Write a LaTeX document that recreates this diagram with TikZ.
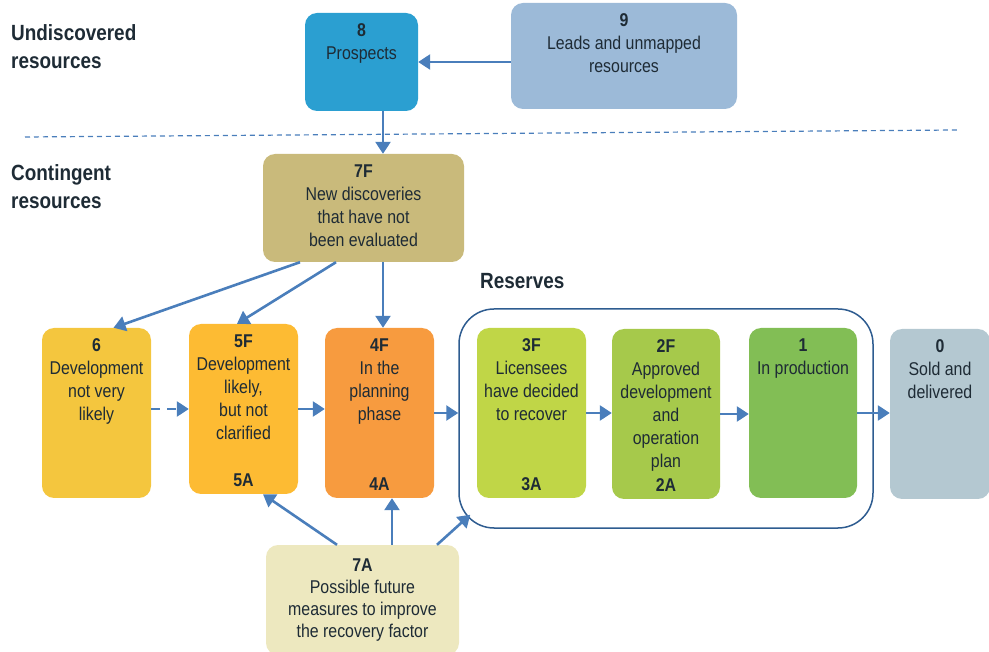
\documentclass[tikz,border=0pt]{standalone}
\usepackage{fontspec}
\setmainfont{Liberation Sans}[FakeStretch=0.86]
\usetikzlibrary{arrows.meta}
\definecolor{c8}{HTML}{2B9FD1}
\definecolor{c9}{HTML}{9CBAD8}
\definecolor{c7f}{HTML}{C9BA7B}
\definecolor{c6}{HTML}{F4C63E}
\definecolor{c5}{HTML}{FDBB33}
\definecolor{c4}{HTML}{F79B3F}
\definecolor{c3}{HTML}{C0D647}
\definecolor{c2}{HTML}{A6C94B}
\definecolor{c1}{HTML}{82BE55}
\definecolor{c0}{HTML}{B4C8D1}
\definecolor{c7a}{HTML}{EDE8BF}
\definecolor{arrc}{HTML}{4A7EBB}
\definecolor{resc}{HTML}{2E5C90}
\definecolor{txtc}{HTML}{1E2B35}
\newcommand\firststrut{\rule{0pt}{14pt}}
\newcommand\headstrut{\rule{0pt}{18pt}}
\tikzset{
  box/.style={rectangle, rounded corners=12pt, draw=none, inner sep=0pt},
  txt/.style={font=\fontsize{18.5}{23}\selectfont, align=center, inner sep=0pt, text=txtc, anchor=north},
  lbl/.style={font=\fontsize{18.5}{23}\selectfont\bfseries, inner sep=0pt, text=txtc, anchor=base},
  head/.style={font=\fontsize{22}{28}\selectfont\bfseries, align=left, inner sep=0pt, text=txtc, anchor=north west},
  arr/.style={draw=arrc, line width=2.6pt, -{Triangle[length=12pt,width=15pt]}},
}
\begin{document}
\begin{tikzpicture}[x=1pt,y=-1pt]
\useasboundingbox (0,0) rectangle (989,652);

% separator
\coordinate (sepL) at (25,137);
\coordinate (sepR) at (957,130);
\draw[arrc, line width=1.2pt, dash pattern=on 5pt off 4pt] (sepL) -- (sepR);

% headings
\node[head] (hU) at (11,22) {\headstrut Undiscovered\\resources};
\node[head] (hC) at (11,162) {\headstrut Contingent\\resources};
\node[lbl, font=\fontsize{22}{28}\selectfont\bfseries, anchor=base west] (hR) at (480,289) {Reserves};

% boxes
\node[box, fill=c8, minimum width=113pt, minimum height=98pt] (b8) at (361.5,62) {};
\node[box, fill=c9, minimum width=226pt, minimum height=106pt] (b9) at (624,56) {};
\node[box, fill=c7f, minimum width=201pt, minimum height=108pt] (b7f) at (363.5,208) {};
\node[box, fill=c6, minimum width=109pt, minimum height=170pt] (b6) at (96.5,413) {};
\node[box, fill=c5, minimum width=109pt, minimum height=170pt] (b5) at (243.5,409) {};
\node[box, fill=c4, minimum width=109pt, minimum height=170pt] (b4) at (379.5,413) {};
\node[rectangle, rounded corners=35pt, draw=resc, line width=1.5pt, minimum width=414pt, minimum height=219pt] (res) at (666,418.5) {};
\node[box, fill=c3, minimum width=109pt, minimum height=170pt] (b3) at (531.5,413) {};
\node[box, fill=c2, minimum width=108pt, minimum height=170pt] (b2) at (666,414) {};
\node[box, fill=c1, minimum width=108pt, minimum height=170pt] (b1) at (803,413) {};
\node[box, fill=c0, minimum width=100pt, minimum height=170pt] (b0) at (940,414) {};
\node[box, fill=c7a, minimum width=193pt, minimum height=110pt] (b7a) at (362.5,600) {};

% texts
\node[txt] (t8) at ([yshift=-9.5pt]b8.north) {\firststrut\textbf{8}\\Prospects};
\node[txt] (t9) at ([yshift=-9.5pt]b9.north) {\firststrut\textbf{9}\\Leads and unmapped\\resources};
\node[txt] (t7f) at ([yshift=-9.5pt]b7f.north) {\firststrut\textbf{7F}\\New discoveries\\that have not\\been evaluated};
\node[txt] (t6) at ([yshift=-9.5pt]b6.north) {\firststrut\textbf{6}\\Development\\not very\\likely};
\node[txt] (t5) at ([yshift=-9.5pt]b5.north) {\firststrut\textbf{5F}\\Development\\likely,\\but not\\clarified};
\node[lbl] (a5) at ([yshift=7.5pt]b5.south) {5A};
\node[txt] (t4) at ([yshift=-9.5pt]b4.north) {\firststrut\textbf{4F}\\In the\\planning\\phase};
\node[lbl] (a4) at ([yshift=8pt]b4.south) {4A};
\node[txt] (t3) at ([yshift=-9.5pt]b3.north) {\firststrut\textbf{3F}\\Licensees\\have decided\\to recover};
\node[lbl] (a3) at ([yshift=8pt]b3.south) {3A};
\node[txt] (t2) at ([yshift=-9.5pt]b2.north) {\firststrut\textbf{2F}\\Approved\\development\\and\\operation\\plan};
\node[lbl] (a2) at ([yshift=8pt]b2.south) {2A};
\node[txt] (t1) at ([yshift=-9.5pt]b1.north) {\firststrut\textbf{1}\\In production};
\node[txt] (t0) at ([yshift=-9.5pt]b0.north) {\firststrut\textbf{0}\\Sold and\\delivered};
\node[txt, font=\fontsize{18.5}{22}\selectfont] (t7a) at ([yshift=-12.5pt]b7a.north) {\firststrut\textbf{7A}\\Possible future\\measures to improve\\the recovery factor};

% connectors
\draw[arr] (b9.west |- b8.east) -- (b8.east);
\draw[arr] ([xshift=21.5pt]b8.south) -- ([xshift=21.5pt]b8.south |- b7f.north);
\draw[arr] ([xshift=-63.5pt]b7f.south) -- ([xshift=17pt]b6.north);
\draw[arr] ([xshift=-27.5pt]b7f.south) -- ([xshift=-6.5pt]b5.north);
\draw[arr] ([xshift=3.5pt]b4.north |- b7f.south) -- ([xshift=3.5pt]b4.north);
\draw[arr, dash pattern=on 9pt off 7pt] (b5.west -| b6.east) -- (b5.west);
\draw[arr] (b5.east) -- (b5.east -| b4.west);
\draw[arr] (b4.east) -- (b4.east -| res.west);
\draw[arr] (b3.east) -- (b3.east -| b2.west);
\draw[arr] (b2.east) -- (b2.east -| b1.west);
\draw[arr] (b1.east) -- (b1.east -| b0.west);
\draw[arr] ([xshift=-25.5pt]b7a.north) -- ([xshift=19.5pt]b5.south);
\draw[arr] ([xshift=29.5pt]b7a.north) -- ([xshift=29.5pt]b7a.north |- b4.south);
\draw[arr] ([xshift=74.5pt]b7a.north) -- ([xshift=12pt,yshift=14pt]res.south west);
\end{tikzpicture}
\end{document}
